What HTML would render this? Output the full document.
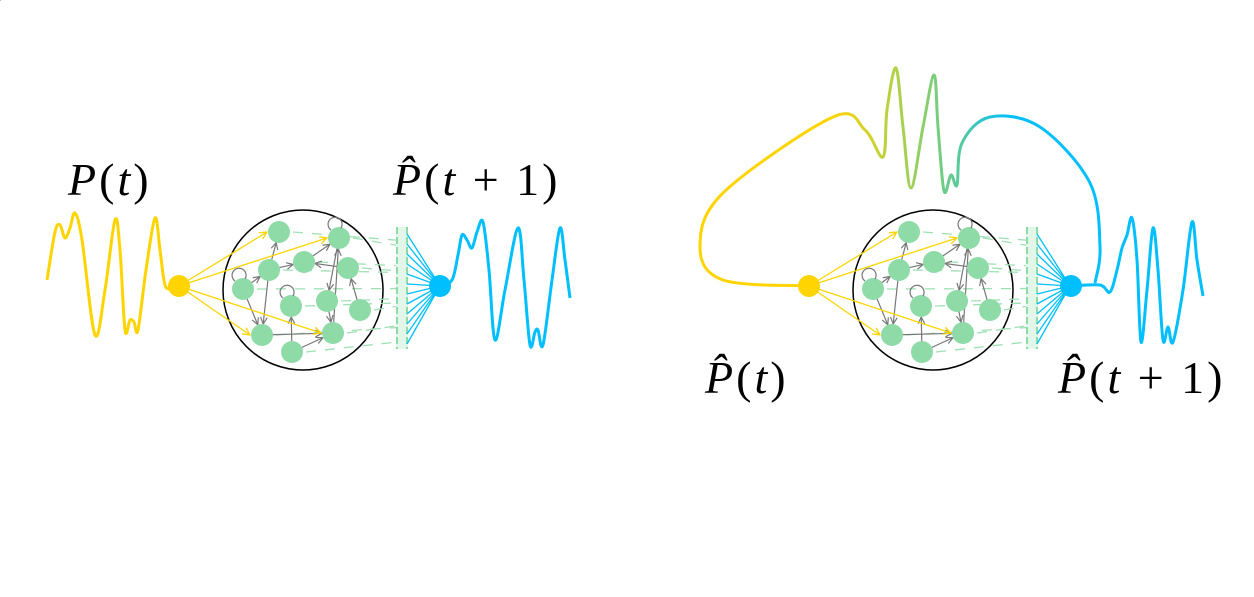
<!DOCTYPE html>
<html><head><meta charset="utf-8"><style>
html,body{margin:0;padding:0;background:#fff;}
svg{display:block;}
text{font-family:"Liberation Serif",serif;font-size:46px;letter-spacing:3px;fill:#000;}
</style></head><body>
<svg id="fig" width="1254" height="597" viewBox="0 0 1254 597" xmlns="http://www.w3.org/2000/svg">
<defs>
<linearGradient id="loopGrad" gradientUnits="userSpaceOnUse" x1="830" y1="0" x2="1010" y2="0">
<stop offset="0" stop-color="#FFD400"/><stop offset="0.45" stop-color="#9FD05A"/><stop offset="0.7" stop-color="#5CCB96"/><stop offset="1" stop-color="#00BFFF"/>
</linearGradient>
<marker id="arrG" viewBox="0 0 10 10" refX="9" refY="5" markerWidth="7" markerHeight="7" orient="auto"><path d="M1,1 L9,5 L1,9" fill="none" stroke="#777" stroke-width="1.4"/></marker>
<marker id="arrY" viewBox="0 0 10 10" refX="9" refY="5" markerWidth="7" markerHeight="7" orient="auto"><path d="M1,1 L9,5 L1,9" fill="none" stroke="#FFD400" stroke-width="1.4"/></marker>
</defs>
<g id="layer"></g>
<text x="68" y="195"><tspan font-style="italic">P</tspan>(<tspan font-style="italic">t</tspan>)</text>
<text x="393" y="195"><tspan font-style="italic">P̂</tspan>(<tspan font-style="italic">t</tspan> + 1)</text>
<text x="705" y="393"><tspan font-style="italic">P̂</tspan>(<tspan font-style="italic">t</tspan>)</text>
<text x="1058" y="393"><tspan font-style="italic">P̂</tspan>(<tspan font-style="italic">t</tspan> + 1)</text>
</svg>
<script>
const inputWaveX=[47,55,60,65,70,75,82,95,105,115,120,125,130,134,138,146,155,160,165,172,179];
const inputWaveY=[280,232,225,238,228,213,240,335,290,220,250,330,320,322,330,270,218,250,285,288,286];
const outputWaveX=[440,452,458,462,467,472,477,483,489,495,505,518,524,530,535,538,543,552,560,565,570];
const outputWaveY=[286,280,255,235,240,248,232,222,270,340,290,228,280,345,332,330,345,280,228,260,298];
const loopX=[809,723,700,723,833,865,883,887,896,903,911,923,934,938,944,951,957,962,990,1040,1090,1100,1095];
const loopY=[286,280,247,193,117,130,157,110,68,127,188,127,75,127,191,175,185,143,117,127,183,247,283];
const predWaveX=[1071,1100,1110,1117,1122,1127,1132,1137,1141,1147,1153,1158,1163,1168,1173,1183,1192,1197,1203];
const predWaveY=[286,285,292,270,248,235,218,260,342,290,228,270,340,327,342,290,222,260,296];
const neuronX=[279,339,269,304,348,243,291,327,360,262,333,292];
const neuronY=[232,238,270,262,268,289,306,301,310,335,333,352];
const edgeFrom=[2,2,5,5,2,9,6,10,11,11,3,8,1,4,7];
const edgeTo=[0,3,2,9,9,10,6,1,6,10,1,4,7,3,10];
const inputTargets=[0,1,9,10];

const NS="http://www.w3.org/2000/svg";
const layer=document.getElementById('layer');
function mk(tag,attrs,parent){const e=document.createElementNS(NS,tag);for(const k in attrs)e.setAttribute(k,attrs[k]);(parent||layer).appendChild(e);return e;}
function smooth(xs,ys){let d=`M${xs[0]},${ys[0]}`;for(let i=0;i<xs.length-1;i++){const x0=xs[Math.max(i-1,0)],y0=ys[Math.max(i-1,0)],x1=xs[i],y1=ys[i],x2=xs[i+1],y2=ys[i+1],x3=xs[Math.min(i+2,xs.length-1)],y3=ys[Math.min(i+2,ys.length-1)];d+=` C${x1+(x2-x0)/6},${y1+(y2-y0)/6} ${x2-(x3-x1)/6},${y2-(y3-y1)/6} ${x2},${y2}`;}return d;}

function reservoir(dx,side){
  const g=mk('g',{});
  
  
  const c=mk('circle',{cx:303+dx,cy:290,r:80,fill:'none',stroke:'#000','stroke-width':1.5},g);
  
  
  for(let i=0;i<neuronX.length;i++){
    const l=mk('line',{x1:neuronX[i]+dx+14,y1:neuronY[i],x2:396+dx,y2:neuronY[i]+(286-neuronY[i])*0.15,stroke:'#9EE0B4','stroke-width':1.3,'stroke-dasharray':'10 9'},g);
    
    
  }
  for(let i=0;i<edgeFrom.length;i++){
    const a=edgeFrom[i],b=edgeTo[i];
    const x1=neuronX[a]+dx,y1=neuronY[a],x2=neuronX[b]+dx,y2=neuronY[b];
    const L=Math.hypot(x2-x1,y2-y1),ux=(x2-x1)/L,uy=(y2-y1)/L;
    const e=mk('line',{x1:x1+ux*8,y1:y1+uy*8,x2:x2-ux*11,y2:y2-uy*11,stroke:'#777','stroke-width':1.2,'marker-end':'url(#arrG)'},g);
    
    
  }
  for(const t of inputTargets){
    const e=mk('line',{x1:179+dx,y1:286,x2:neuronX[t]+dx-12,y2:neuronY[t],stroke:'#FFD400','stroke-width':1.3,'marker-end':'url(#arrY)'},g);
    
    
  }
  for(let i=0;i<neuronX.length;i++){
    const n=mk('circle',{cx:neuronX[i]+dx,cy:neuronY[i],r:11,fill:'#8EDBA8'},g);
    
    
  }
  [1,5,6].forEach(i=>{
    const lp=mk('path',{d:`M${neuronX[i]+dx-8},${neuronY[i]-8} a7,7 0 1 1 10,-2`,fill:'none',stroke:'#777','stroke-width':1.2},g);
    
    
  });
  const bar=mk('rect',{x:396+dx,y:227,width:12,height:122,fill:'#E3F6EA'},g);
  
  
  [397,407].forEach(x=>{const l=mk('line',{x1:x+dx,y1:227,x2:x+dx,y2:349,stroke:'#8EDBA8','stroke-width':2,'stroke-dasharray':'7 3'},g);});
  for(let k=0;k<12;k++){
    const y=234+k*10;
    const l=mk('line',{x1:407+dx,y1:y,x2:440+dx,y2:286,stroke:'#00BFFF','stroke-width':1.3},g);
    
    
  }
  const yn=mk('circle',{cx:179+dx,cy:286,r:11,fill:'#FFD400'},g);
  
  
}

const w1=mk('path',{d:smooth(inputWaveX,inputWaveY),fill:'none',stroke:'#FFD400','stroke-width':3});


const w2=mk('path',{d:smooth(outputWaveX,outputWaveY),fill:'none',stroke:'#00BFFF','stroke-width':3});


const w3=mk('path',{d:smooth(loopX,loopY),fill:'none',stroke:'url(#loopGrad)','stroke-width':3});


const w4=mk('path',{d:smooth(predWaveX,predWaveY),fill:'none',stroke:'#00BFFF','stroke-width':3});



reservoir(0,'left');
reservoir(630,'right');
[[440,'output-node-left'],[1071,'output-node-right']].forEach(([x,n])=>{
  const c=mk('circle',{cx:x,cy:286,r:11,fill:'#00BFFF'});
  
  
});
</script>
</body></html>
